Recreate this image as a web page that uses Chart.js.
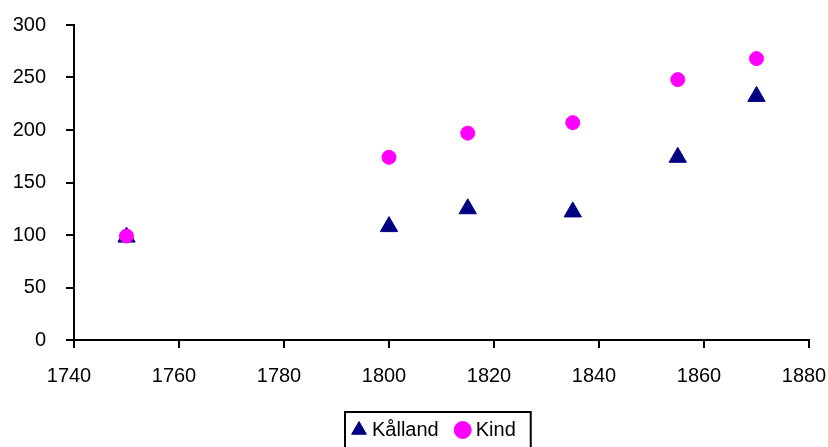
<!DOCTYPE html>
<html>
<head>
<meta charset="utf-8">
<script src="https://cdn.jsdelivr.net/npm/chart.js@4/dist/chart.umd.min.js"></script>
<style>
html,body{margin:0;padding:0;background:#fff;}
#wrap{width:828px;height:447px;position:relative;}
</style>
</head>
<body>
<div id="wrap"><canvas id="c" width="828" height="447"></canvas></div>
<script>
const years = [1750, 1800, 1815, 1835, 1855, 1870];
const kallandValues = [98, 108, 125, 122, 174, 232];
const kindValues = [99, 174, 197, 207, 248, 268];
const seriesNames = ['Kålland', 'Kind'];
const xTicks = [1740, 1760, 1780, 1800, 1820, 1840, 1860, 1880];
const yTicks = [0, 50, 100, 150, 200, 250, 300];

const toPoints = (xs, ys) => xs.map((x, i) => ({x: x, y: ys[i]}));

const LEGEND_PAD = 21;
const LEGEND_START_X = 356;
const LEGEND_ROW_Y = 420;

const legendTweak = {
  id: 'legendTweak',
  afterLayout(chart) {
    const lg = chart.legend;
    if (!lg) return;
    const h = lg.bottom - lg.top;
    lg.left = LEGEND_START_X - LEGEND_PAD;
    lg.right = chart.width;
    lg.top = LEGEND_ROW_Y - LEGEND_PAD;
    lg.bottom = lg.top + h;
  },
  afterDraw(chart) {
    const lg = chart.legend;
    if (!lg || !lg.legendHitBoxes) return;
    const hb = lg.legendHitBoxes;
    let x = LEGEND_START_X;
    let end = x;
    hb.forEach((b) => { end = x + b.width; x = end + LEGEND_PAD; });
    const ctx = chart.ctx;
    ctx.save();
    ctx.strokeStyle = '#000';
    ctx.lineWidth = 2;
    ctx.strokeRect(LEGEND_START_X - 11, LEGEND_ROW_Y - 8, end + 15 - (LEGEND_START_X - 11), 60);
    ctx.restore();
  }
};

new Chart(document.getElementById('c'), {
  type: 'scatter',
  data: {
    datasets: [
      {
        label: seriesNames[0],
        data: toPoints(years, kallandValues),
        pointStyle: 'triangle',
        backgroundColor: '#000080',
        borderColor: '#000080',
        pointRadius: 10,
        pointHoverRadius: 10,
        borderWidth: 1,
        order: 1
      },
      {
        label: seriesNames[1],
        data: toPoints(years, kindValues),
        pointStyle: 'circle',
        backgroundColor: '#FF00FF',
        borderColor: '#FF00FF',
        pointRadius: 7,
        pointHoverRadius: 7,
        borderWidth: 1,
        order: 0
      }
    ]
  },
  options: {
    responsive: false,
    animation: false,
    events: [],
    layout: { padding: { top: 25, right: 19, left: 0, bottom: 0 } },
    plugins: {
      tooltip: { enabled: false },
      legend: {
        position: 'bottom',
        align: 'start',
        labels: {
          usePointStyle: true,
          sort: (a, b) => a.datasetIndex - b.datasetIndex,
          color: '#000',
          font: { family: 'Arial, "Liberation Sans", sans-serif', size: 20 },
          boxWidth: 6,
          boxHeight: 12,
          padding: LEGEND_PAD
        }
      }
    },
    scales: {
      x: {
        type: 'linear',
        min: 1740,
        max: 1880,
        afterBuildTicks(axis) { axis.ticks = xTicks.map(v => ({value: v})); },
        ticks: {
          color: '#000',
          font: { family: 'Arial, "Liberation Sans", sans-serif', size: 20 },
          padding: 16,
          labelOffset: -5,
          maxRotation: 0,
          callback: v => String(v)
        },
        grid: { drawOnChartArea: false, drawTicks: true, tickLength: 8, color: '#000', lineWidth: 2 },
        border: { color: '#000', width: 2 },
        afterFit(axis) { axis.height = 56; axis.paddingLeft = 0; axis.paddingRight = 0; }
      },
      y: {
        min: 0,
        max: 300,
        afterBuildTicks(axis) { axis.ticks = yTicks.map(v => ({value: v})); },
        ticks: {
          color: '#000',
          font: { family: 'Arial, "Liberation Sans", sans-serif', size: 20 },
          padding: 20
        },
        grid: { drawOnChartArea: false, drawTicks: true, tickLength: 8, color: '#000', lineWidth: 2 },
        border: { color: '#000', width: 2 },
        afterFit(axis) { axis.width = 74; axis.paddingTop = 0; axis.paddingBottom = 0; }
      }
    }
  },
  plugins: [legendTweak]
});
</script>
</body>
</html>
